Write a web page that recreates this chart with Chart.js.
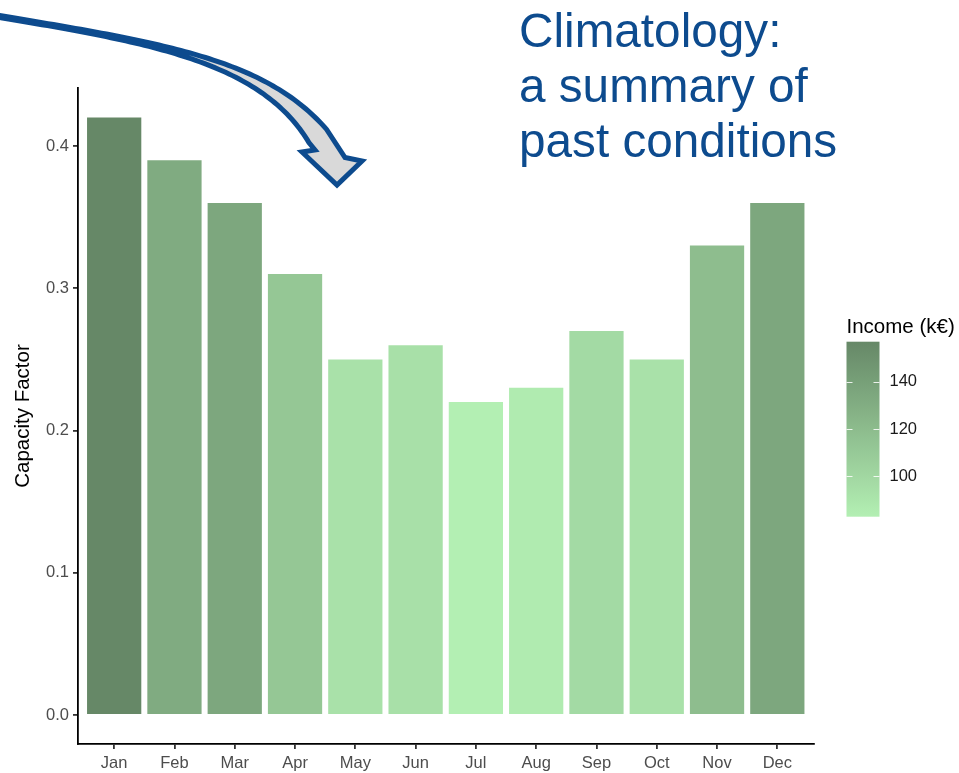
<!DOCTYPE html>
<html>
<head>
<meta charset="utf-8">
<script src="https://cdn.jsdelivr.net/npm/chart.js@4/dist/chart.umd.min.js"></script>
<style>
  html, body { margin: 0; padding: 0; background: #ffffff; }
  canvas { display: block; }
</style>
</head>
<body>
<canvas id="cf" width="959" height="773"></canvas>
<script>
// Monthly climatology: mean capacity factor and the income it brings
const months = ['Jan', 'Feb', 'Mar', 'Apr', 'May', 'Jun', 'Jul', 'Aug', 'Sep', 'Oct', 'Nov', 'Dec'];
const capacityFactor = [0.42, 0.39, 0.36, 0.31, 0.25, 0.26, 0.22, 0.23, 0.27, 0.25, 0.33, 0.36];
const incomeK = [157, 132, 135, 112, 93, 94, 83, 86, 98, 93, 119, 135];
const yTicks = [0.0, 0.1, 0.2, 0.3, 0.4];
const incomeTicks = [100, 120, 140];
const titleLines = ['Climatology:', 'a summary of', 'past conditions'];

const FONT = '"Liberation Sans", Arial, Helvetica, sans-serif';
const LOW = [179, 239, 179];   // fill for the lowest income
const HIGH = [102, 136, 103];  // fill for the highest income
const BLUE = '#0d4b8e';

const incMin = Math.min(...incomeK);
const incMax = Math.max(...incomeK);

function mix(t) {
  const c = LOW.map((lo, i) => Math.round(lo + (HIGH[i] - lo) * t));
  return `rgb(${c[0]},${c[1]},${c[2]})`;
}
function incomeColor(v) {
  return mix((v - incMin) / (incMax - incMin));
}

// Centre line of the callout arrow (cubic Bézier) and its widening half-width
const SPINE = [[-5, 15.7], [170, 45], [277.5, 63], [329.5, 154]];
function spineAt(t) {
  const u = 1 - t;
  const b = [u * u * u, 3 * u * u * t, 3 * u * t * t, t * t * t];
  const d = [-3 * u * u, 3 * u * u - 6 * u * t, 6 * u * t - 3 * t * t, 3 * t * t];
  let x = 0, y = 0, dx = 0, dy = 0;
  SPINE.forEach((p, i) => { x += b[i] * p[0]; y += b[i] * p[1]; dx += d[i] * p[0]; dy += d[i] * p[1]; });
  const len = Math.hypot(dx, dy);
  return { x, y, nx: dy / len, ny: -dx / len };
}
function halfWidth(t) { return 1 + 12 * Math.pow(t, 2.5); }

// Curved callout arrow and the headline text
const annotation = {
  id: 'annotation',
  afterDraw(chart) {
    const ctx = chart.ctx;
    const N = 80, T_END = 0.93;
    ctx.save();
    ctx.beginPath();
    for (let i = 0; i <= N; i++) {
      const t = T_END * i / N;
      const s = spineAt(t), h = halfWidth(t);
      const px = s.x + s.nx * h, py = s.y + s.ny * h;
      if (i === 0) ctx.moveTo(px, py); else ctx.lineTo(px, py);
    }
    ctx.lineTo(345, 157.5);  // right notch
    ctx.lineTo(362, 161);    // right barb
    ctx.lineTo(337, 185);    // tip
    ctx.lineTo(302, 152);    // left barb
    ctx.lineTo(315, 150);    // left notch
    for (let i = N; i >= 0; i--) {
      const t = T_END * i / N;
      const s = spineAt(t), h = halfWidth(t);
      ctx.lineTo(s.x - s.nx * h, s.y - s.ny * h);
    }
    ctx.closePath();
    ctx.fillStyle = '#d9d9d9';
    ctx.fill();
    ctx.lineWidth = 5;
    ctx.lineJoin = 'miter';
    ctx.strokeStyle = BLUE;
    ctx.stroke();

    ctx.fillStyle = BLUE;
    ctx.font = `47.7px ${FONT}`;
    ctx.textAlign = 'left';
    ctx.textBaseline = 'alphabetic';
    titleLines.forEach((line, i) => ctx.fillText(line, 519, 47 + i * 55));
    ctx.restore();
  }
};

// Continuous colour bar for the income fill scale
const colorBar = {
  id: 'colorBar',
  afterDraw(chart) {
    const ctx = chart.ctx;
    const x0 = chart.chartArea.right + 33;
    const w = 33;
    const top = 341.7, bottom = 516.7;
    const yOf = v => bottom - (v - incMin) / (incMax - incMin) * (bottom - top);
    ctx.save();
    const g = ctx.createLinearGradient(0, bottom, 0, top);
    for (let i = 0; i <= 10; i++) g.addColorStop(i / 10, mix(i / 10));
    ctx.fillStyle = g;
    ctx.fillRect(x0, top, w, bottom - top);

    ctx.strokeStyle = 'rgba(255,255,255,0.85)';
    ctx.lineWidth = 1;
    ctx.font = `16.5px ${FONT}`;
    ctx.fillStyle = '#1a1a1a';
    ctx.textAlign = 'left';
    ctx.textBaseline = 'middle';
    incomeTicks.forEach(v => {
      const y = Math.round(yOf(v)) + 0.5;
      ctx.beginPath();
      ctx.moveTo(x0, y); ctx.lineTo(x0 + 6, y);
      ctx.moveTo(x0 + w - 6, y); ctx.lineTo(x0 + w, y);
      ctx.stroke();
      ctx.fillText(String(v), x0 + w + 10, yOf(v));
    });

    ctx.font = `20.5px ${FONT}`;
    ctx.fillStyle = '#000000';
    ctx.textBaseline = 'alphabetic';
    ctx.fillText('Income (k€)', x0, 333);
    ctx.restore();
  }
};

new Chart(document.getElementById('cf'), {
  type: 'bar',
  data: {
    labels: months,
    datasets: [{
      label: 'Capacity Factor',
      data: capacityFactor,
      backgroundColor: incomeK.map(incomeColor),
      borderWidth: 0,
      categoryPercentage: 1.0,
      barPercentage: 0.9
    }]
  },
  options: {
    responsive: false,
    animation: false,
    events: [],
    layout: { padding: { left: 0, right: 145.5, top: 88, bottom: 0 } },
    plugins: {
      legend: { display: false },
      title: { display: false },
      tooltip: { enabled: false }
    },
    scales: {
      x: {
        type: 'category',
        offset: false,
        afterFit(scale) { scale.height = 29; },
        afterBuildTicks(scale) {
          // discrete axis padded by 0.6 of a category on each side
          scale._startValue = -0.6;
          scale._valueRange = months.length - 1 + 1.2;
        },
        grid: {
          offset: false,
          drawOnChartArea: false,
          drawTicks: true,
          tickLength: 5,
          color: '#333333',
          lineWidth: 1.8
        },
        border: { display: true, color: '#000000', width: 1.8 },
        ticks: {
          padding: 5,
          color: '#4d4d4d',
          font: { family: FONT, size: 16.5 },
          maxRotation: 0,
          autoSkip: false
        }
      },
      y: {
        type: 'linear',
        min: -0.0204,
        max: 0.4408,
        afterFit(scale) { scale.width = 78; },
        afterBuildTicks(scale) {
          scale.ticks = yTicks.map(v => ({ value: v }));
        },
        grid: {
          drawOnChartArea: false,
          drawTicks: true,
          tickLength: 5,
          color: '#333333',
          lineWidth: 1.8
        },
        border: { display: true, color: '#000000', width: 1.8 },
        ticks: {
          padding: 4,
          color: '#4d4d4d',
          font: { family: FONT, size: 16.5 },
          callback: v => Number(v).toFixed(1)
        },
        title: {
          display: true,
          text: 'Capacity Factor',
          color: '#000000',
          font: { family: FONT, size: 20.5 },
          padding: { top: 11, bottom: 0 }
        }
      }
    }
  },
  plugins: [annotation, colorBar]
});
</script>
</body>
</html>
